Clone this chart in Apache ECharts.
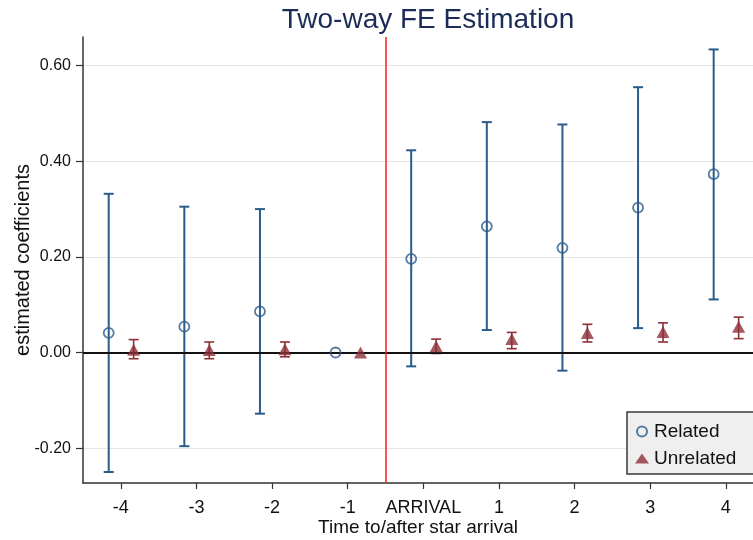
<!DOCTYPE html>
<html>
<head>
<meta charset="utf-8">
<script src="https://cdn.jsdelivr.net/npm/echarts@6/dist/echarts.min.js"></script>
<style>
html,body{margin:0;padding:0;background:#fff;}
#chart{width:753px;height:540px;}
</style>
</head>
<body>
<div id="chart"></div>
<script>
// ---- data ----
const periods = [-4, -3, -2, -1, 0, 1, 2, 3, 4];
const tickLabels = ['-4', '-3', '-2', '-1', 'ARRIVAL', '1', '2', '3', '4'];
const yTicks = [-0.2, 0, 0.2, 0.4, 0.6];

const relatedCoef = [0.041, 0.054, 0.086, 0, 0.196, 0.264, 0.219, 0.303, 0.373];
const relatedLow  = [-0.250, -0.196, -0.128, null, -0.029, 0.047, -0.038, 0.051, 0.111];
const relatedHigh = [0.332, 0.305, 0.300, null, 0.423, 0.482, 0.477, 0.555, 0.634];

const unrelatedCoef = [0.006, 0.005, 0.007, 0, 0.013, 0.028, 0.041, 0.043, 0.054];
const unrelatedLow  = [-0.013, -0.013, -0.009, null, -0.002, 0.008, 0.022, 0.022, 0.029];
const unrelatedHigh = [0.027, 0.022, 0.022, null, 0.028, 0.042, 0.059, 0.062, 0.074];

const arrivalLine = -0.5;

// ---- style / layout ----
const relOffset = -0.16;
const unrelOffset = 0.17;
const BLUE = '#2a5b8a';
const MAROON = '#8e3038';
const FONT = 'Liberation Sans, Arial, sans-serif';

function pts(coef, offset) {
  return periods.map((p, i) => [p + offset, coef[i]]);
}
function bars(lo, hi, offset) {
  const out = [];
  periods.forEach((p, i) => {
    if (lo[i] !== null && hi[i] !== null) out.push([p + offset, lo[i], hi[i]]);
  });
  return out;
}
function errRender(color, width, capHalf) {
  return function (params, api) {
    const x = api.value(0);
    const a = api.coord([x, api.value(1)]);
    const b = api.coord([x, api.value(2)]);
    const st = { stroke: color, lineWidth: width };
    return {
      type: 'group',
      children: [
        { type: 'line', shape: { x1: a[0], y1: a[1], x2: b[0], y2: b[1] }, style: st },
        { type: 'line', shape: { x1: a[0] - capHalf, y1: a[1], x2: a[0] + capHalf, y2: a[1] }, style: st },
        { type: 'line', shape: { x1: b[0] - capHalf, y1: b[1], x2: b[0] + capHalf, y2: b[1] }, style: st }
      ]
    };
  };
}

const chart = echarts.init(document.getElementById('chart'), null, { renderer: 'canvas' });
chart.setOption({
  animation: false,
  backgroundColor: '#ffffff',
  textStyle: { fontFamily: FONT },
  title: {
    text: 'Two-way FE Estimation',
    left: 423,
    textAlign: 'center',
    top: 1,
    textStyle: { fontFamily: FONT, fontSize: 28, fontWeight: 'normal', color: '#1b2d57' }
  },
  grid: { left: 83, right: 0, top: 37, bottom: 57, containLabel: false, outerBoundsMode: 'none' },
  legend: {
    orient: 'vertical',
    left: 627,
    top: 412,
    padding: [10, 30, 6, 8],
    itemGap: 8,
    itemWidth: 14,
    itemHeight: 10,
    backgroundColor: '#efefef',
    borderColor: '#3a3a3a',
    borderWidth: 1.5,
    borderRadius: 0,
    textStyle: { fontFamily: FONT, fontSize: 19, color: '#111' },
    data: [
      { name: 'Related', icon: 'circle' },
      { name: 'Unrelated', icon: 'triangle' }
    ]
  },
  xAxis: {
    type: 'value',
    min: -4.5,
    max: 4.36,
    axisLine: { show: true, onZero: false, lineStyle: { color: '#333', width: 1.5 } },
    axisTick: { show: true, length: 6, customValues: periods, lineStyle: { color: '#333', width: 1.2 } },
    axisLabel: {
      customValues: periods,
      margin: 16,
      fontSize: 18,
      color: '#111',
      fontFamily: FONT,
      formatter: function (v) {
        const i = periods.indexOf(Math.round(v));
        return i >= 0 ? tickLabels[i] : '';
      }
    },
    splitLine: { show: false },
    name: 'Time to/after star arrival',
    nameLocation: 'middle',
    nameGap: 35,
    nameMoveOverlap: false,
    nameTextStyle: { fontSize: 19, color: '#111', fontFamily: FONT, padding: [0, 0, 0, 0] }
  },
  yAxis: {
    type: 'value',
    min: -0.273,
    max: 0.66,
    axisLine: { show: true, onZero: false, lineStyle: { color: '#333', width: 1.5 } },
    axisTick: { show: true, length: 7, customValues: yTicks, lineStyle: { color: '#333', width: 1.2 } },
    axisLabel: {
      customValues: yTicks,
      margin: 12,
      fontSize: 16,
      color: '#111',
      fontFamily: FONT,
      formatter: function (v) { return (Math.abs(v) < 1e-9 ? 0 : v).toFixed(2); }
    },
    splitLine: { show: true, lineStyle: { color: '#e6e6e6', width: 1 } },
    name: 'estimated coefficients',
    nameLocation: 'middle',
    nameGap: 50,
    nameMoveOverlap: false,
    nameTextStyle: { fontSize: 20, color: '#111', fontFamily: FONT }
  },
  series: [
    {
      name: 'refLines',
      type: 'line',
      data: [],
      silent: true,
      markLine: {
        silent: true,
        symbol: 'none',
        label: { show: false },
        animation: false,
        data: [
          { yAxis: 0, lineStyle: { color: '#111', width: 1.8, type: 'solid' } },
          { xAxis: arrivalLine, lineStyle: { color: '#ff1a1a', width: 1.5, type: 'solid' } }
        ]
      }
    },
    {
      name: 'Related CI',
      type: 'custom',
      renderItem: errRender(BLUE, 2, 5),
      encode: { x: 0, y: [1, 2] },
      data: bars(relatedLow, relatedHigh, relOffset),
      z: 3,
      silent: true
    },
    {
      name: 'Unrelated CI',
      type: 'custom',
      renderItem: errRender(MAROON, 1.6, 5),
      encode: { x: 0, y: [1, 2] },
      data: bars(unrelatedLow, unrelatedHigh, unrelOffset),
      z: 3,
      silent: true
    },
    {
      name: 'Related',
      type: 'scatter',
      symbol: 'circle',
      symbolSize: 10,
      itemStyle: { color: 'rgba(255,255,255,0)', borderColor: BLUE, borderWidth: 1.8 },
      data: pts(relatedCoef, relOffset),
      z: 5
    },
    {
      name: 'Unrelated',
      type: 'scatter',
      symbol: 'triangle',
      symbolSize: [13, 12],
      itemStyle: { color: MAROON },
      data: pts(unrelatedCoef, unrelOffset),
      z: 5
    }
  ]
});
</script>
</body>
</html>
